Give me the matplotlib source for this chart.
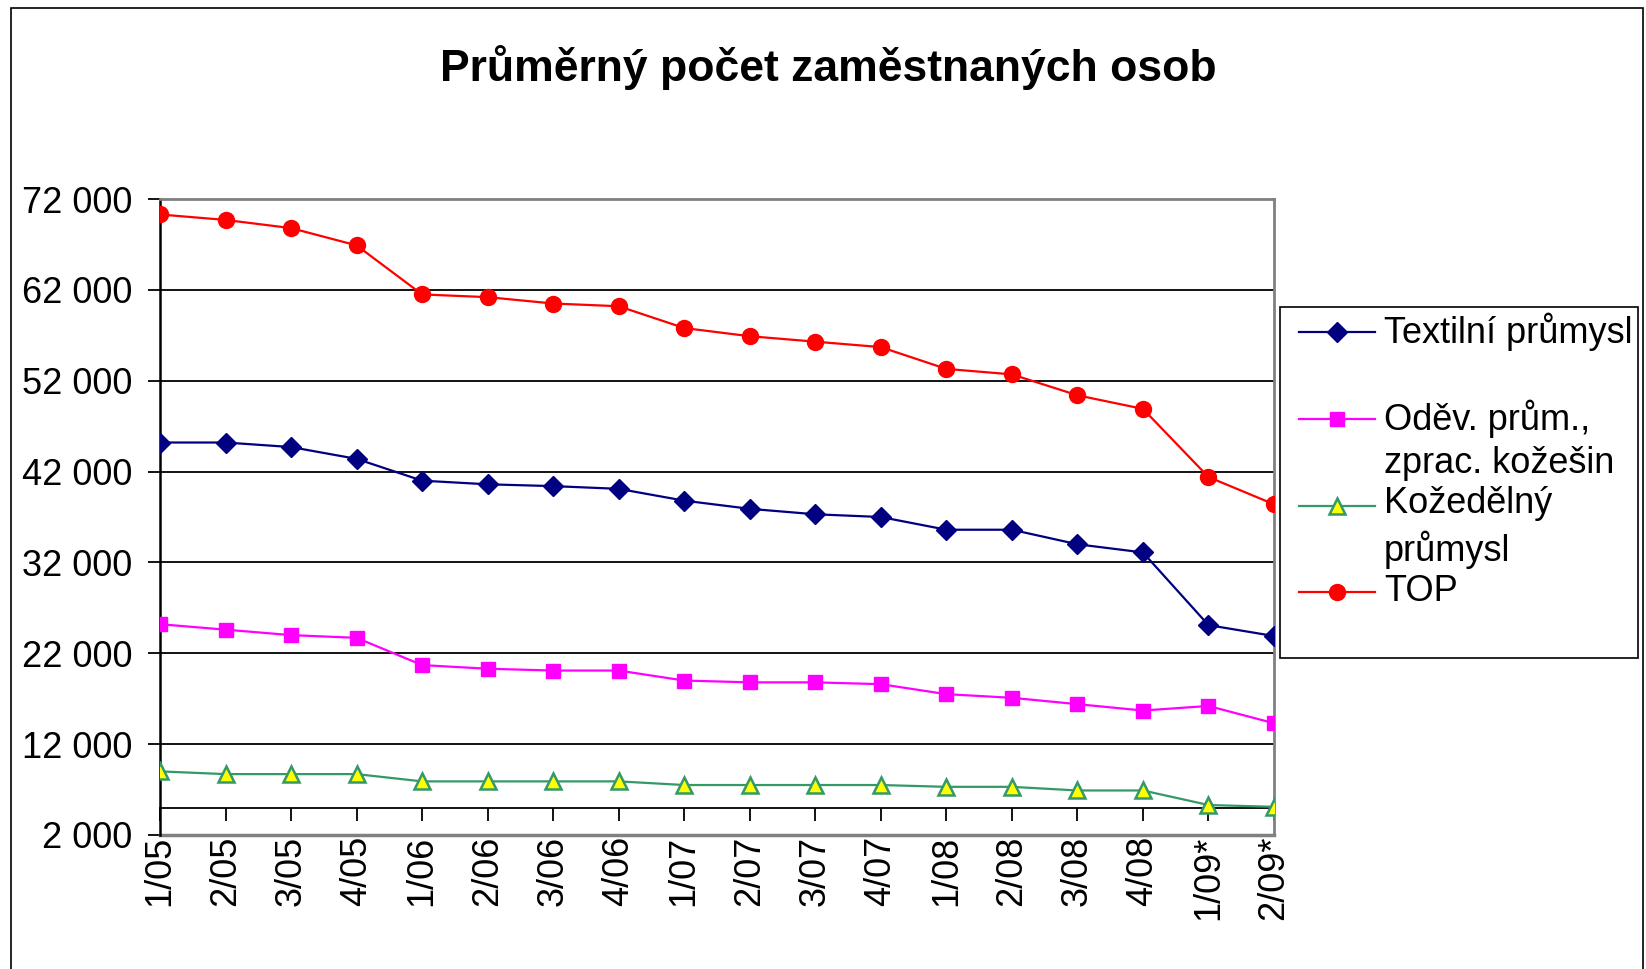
import numpy as np
import matplotlib
matplotlib.use('Agg')
import matplotlib.pyplot as plt
from matplotlib.patches import Rectangle
from matplotlib.legend_handler import HandlerLine2D
from matplotlib.ticker import FuncFormatter

plt.rcParams['font.family'] = ['Liberation Sans', 'DejaVu Sans']

periods = ['1/05', '2/05', '3/05', '4/05', '1/06', '2/06', '3/06', '4/06',
           '1/07', '2/07', '3/07', '4/07', '1/08', '2/08', '3/08', '4/08',
           '1/09*', '2/09*']

textil = [45200, 45200, 44700, 43400, 41000, 40600, 40400, 40100,
          38800, 37900, 37300, 37000, 35600, 35600, 34000, 33100,
          25100, 23900]
odev = [25200, 24600, 24000, 23700, 20700, 20300, 20100, 20100,
        19000, 18800, 18800, 18600, 17500, 17100, 16400, 15700,
        16200, 14300]
koze = [9000, 8700, 8700, 8700, 7900, 7900, 7900, 7900,
        7500, 7500, 7500, 7500, 7300, 7300, 6900, 6900,
        5300, 5100]
top = [70300, 69700, 68800, 66900, 61500, 61200, 60500, 60200,
       57800, 56900, 56300, 55700, 53300, 52700, 50400, 48900,
       41400, 38400]

labels = ['Textilní průmysl\n', 'Oděv. prům.,\nzprac. kožešin',
          'Kožedělný\nprůmysl', 'TOP\n']

y_ticks = [2000, 12000, 22000, 32000, 42000, 52000, 62000, 72000]

LEG_FS = 26
LEG_LS = 1.3


class FirstLineHandler(HandlerLine2D):
    # posune klic legendy na prvni radek textu (jako v Excelu)
    def __init__(self, shift, dx=0, **kw):
        super().__init__(**kw)
        self.shift = shift
        self.dx = dx

    def create_artists(self, legend, orig_handle, xdescent, ydescent,
                       width, height, fontsize, trans):
        artists = super().create_artists(legend, orig_handle, xdescent, ydescent,
                                         width, height, fontsize, trans)
        for a in artists:
            a.set_ydata(np.asarray(a.get_ydata(), dtype=float) + self.shift)
            a.set_xdata(np.asarray(a.get_xdata(), dtype=float) + self.dx)
        return artists


fig = plt.figure(figsize=(16.46, 9.69), dpi=100)
ax = fig.add_axes([0.0972, 0.1383, 0.774 - 0.0972, 0.7946 - 0.1383])

x = np.arange(len(periods))
l1, = ax.plot(x, textil, color='#000080', lw=1.6, marker='D', ms=10.5,
              mec='#000080', mfc='#000080', zorder=5)
l2, = ax.plot(x, odev, color='#FF00FF', lw=1.6, marker='s', ms=10.5,
              mec='#FF00FF', mfc='#FF00FF', zorder=5)
l3, = ax.plot(x, koze, color='#339966', lw=1.6, marker='^', ms=11.5,
              mec='#339966', mfc='#FFFF00', mew=1.8, zorder=5)
l4, = ax.plot(x, top, color='#FF0000', lw=1.6, marker='o', ms=11.5,
              mec='#FF0000', mfc='#FF0000', zorder=5)

ax.set_xlim(0, len(periods) - 1)
ax.set_ylim(2000, 72000)
ax.set_yticks(y_ticks)
ax.yaxis.set_major_formatter(FuncFormatter(lambda v, p: f'{int(v):,}'.replace(',', ' ')))
ax.yaxis.grid(True, color='black', lw=1.3)
ax.set_axisbelow(True)

ax.set_xticks(x)
ax.set_xticklabels(periods)

# osa x protina hodnotu 5000
ax.spines['bottom'].set_position(('data', 5000))
ax.spines['bottom'].set_color('black')
ax.spines['bottom'].set_linewidth(1.3)
ax.spines['left'].set_color('black')
ax.spines['left'].set_linewidth(1.8)
for s in ['top', 'right']:
    ax.spines[s].set_color('#808080')
    ax.spines[s].set_linewidth(2)
ax.axhline(2000, color='#808080', lw=2.5, clip_on=False)

ax.tick_params(axis='x', direction='out', length=9, width=1.3, pad=11,
               labelsize=26, labelrotation=90)
ax.tick_params(axis='y', direction='out', length=9, width=1.3, pad=11,
               labelsize=26)

fig.text(0.503, 0.93, 'Průměrný počet zaměstnaných osob', ha='center',
         va='center', fontsize=32, fontweight='bold')

shift = 0.5 * LEG_LS * 0.94 * LEG_FS
hmap = {l: FirstLineHandler(shift, dx=10) for l in [l1, l2, l3, l4]}
leg = fig.legend([l1, l2, l3, l4], labels, loc='upper left',
                 bbox_to_anchor=(1280 / 1646, 1 - 307 / 969),
                 fontsize=LEG_FS, handlelength=2.1, handletextpad=0.63,
                 labelspacing=0.15, borderpad=0.15, borderaxespad=0,
                 fancybox=False, framealpha=1, edgecolor='black',
                 handler_map=hmap)
for t in leg.get_texts():
    t.set_linespacing(LEG_LS)
leg.get_frame().set_linewidth(1.2)

fig.add_artist(Rectangle((11 / 1646, -0.01), (1643 - 11) / 1646, 1.01 - 8 / 969,
                         transform=fig.transFigure, fill=False,
                         edgecolor='black', lw=1.2))

fig.savefig('out.png', dpi=100)
